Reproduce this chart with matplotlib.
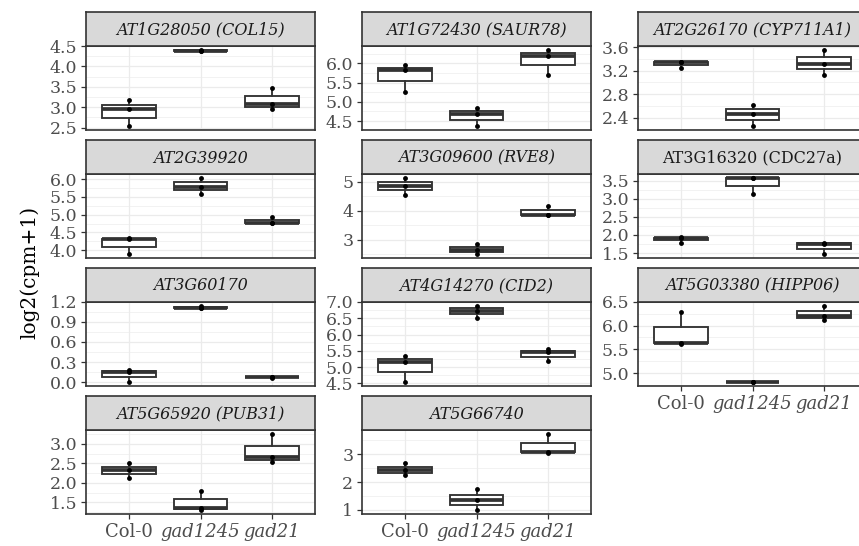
import matplotlib
matplotlib.use("Agg")
import matplotlib.pyplot as plt
import numpy as np

plt.rcParams["font.family"] = ["DejaVu Serif"]

# ---- data -------------------------------------------------------------
genotypes = ["Col-0", "gad1245", "gad21"]
genotype_italic = [False, True, True]

gene_labels = [
    "AT1G28050 (COL15)", "AT1G72430 (SAUR78)", "AT2G26170 (CYP711A1)",
    "AT2G39920", "AT3G09600 (RVE8)", "AT3G16320 (CDC27a)",
    "AT3G60170", "AT4G14270 (CID2)", "AT5G03380 (HIPP06)",
    "AT5G65920 (PUB31)", "AT5G66740",
]
gene_italic = [True, True, True, True, True, False, True, True, True, True, True]

# log2(cpm+1), three replicates per genotype (Col-0, gad1245, gad21)
col15 = [[2.53, 2.96, 3.17], [4.37, 4.38, 4.40], [2.96, 3.07, 3.46]]
saur78 = [[5.25, 5.82, 5.96], [4.36, 4.69, 4.83], [5.69, 6.20, 6.35]]
cyp711a1 = [[3.25, 3.34, 3.355], [2.25, 2.46, 2.62], [3.13, 3.32, 3.555]]
at2g39920 = [[3.88, 4.31, 4.34], [5.59, 5.79, 6.04], [4.76, 4.78, 4.93]]
rve8 = [[4.56, 4.85, 5.14], [2.49, 2.66, 2.86], [3.85, 3.87, 4.18]]
cdc27a = [[1.79, 1.91, 1.93], [3.14, 3.57, 3.58], [1.46, 1.76, 1.77]]
at3g60170 = [[0.00, 0.15, 0.18], [1.10, 1.11, 1.13], [0.07, 0.075, 0.08]]
cid2 = [[4.54, 5.17, 5.33], [6.51, 6.72, 6.89], [5.18, 5.45, 5.55]]
hipp06 = [[5.62, 5.64, 6.28], [4.81, 4.82, 4.82], [6.11, 6.21, 6.42]]
pub31 = [[2.13, 2.32, 2.50], [1.29, 1.36, 1.79], [2.53, 2.66, 3.26]]
at5g66740 = [[2.27, 2.42, 2.68], [0.98, 1.34, 1.77], [3.06, 3.09, 3.74]]

gene_values = [col15, saur78, cyp711a1, at2g39920, rve8, cdc27a,
               at3g60170, cid2, hipp06, pub31, at5g66740]

y_ticks = [
    [2.5, 3.0, 3.5, 4.0, 4.5],
    [4.5, 5.0, 5.5, 6.0],
    [2.4, 2.8, 3.2, 3.6],
    [4.0, 4.5, 5.0, 5.5, 6.0],
    [3, 4, 5],
    [1.5, 2.0, 2.5, 3.0, 3.5],
    [0.0, 0.3, 0.6, 0.9, 1.2],
    [4.5, 5.0, 5.5, 6.0, 6.5, 7.0],
    [5.0, 5.5, 6.0, 6.5],
    [1.5, 2.0, 2.5, 3.0],
    [1, 2, 3],
]
y_tick_fmt = ["{:.1f}", "{:.1f}", "{:.1f}", "{:.1f}", "{:d}", "{:.1f}",
              "{:.1f}", "{:.1f}", "{:.1f}", "{:.1f}", "{:d}"]

# ---- layout (pixels) ----------------------------------------------------
W, H = 859, 546
DPI = 100
col_left = [86, 362, 638]
panel_w = 229
row_top = [46, 174, 301.7, 430]
panel_h = 84.3
strip_h = 34

GRID = "#EBEBEB"
DARK = "#333333"

fig = plt.figure(figsize=(W / DPI, H / DPI), dpi=DPI)
fig.patch.set_facecolor("white")


def frac_rect(x, y_top, w, h):
    return [x / W, 1 - (y_top + h) / H, w / W, h / H]


bottom_panels = {8, 9, 10}

for i, (label, vals) in enumerate(zip(gene_labels, gene_values)):
    r, c = divmod(i, 3)
    ax = fig.add_axes(frac_rect(col_left[c], row_top[r], panel_w, panel_h))
    ax.set_facecolor("white")

    allv = np.concatenate([np.asarray(v, float) for v in vals])
    lo, hi = allv.min(), allv.max()
    pad = 0.05 * (hi - lo)
    ax.set_ylim(lo - pad, hi + pad)
    ax.set_xlim(0.4, 3.6)

    ticks = y_ticks[i]
    step = ticks[1] - ticks[0]
    minors = [t + step / 2 for t in ticks[:-1]]
    minors = [ticks[0] - step / 2] + minors + [ticks[-1] + step / 2]
    ylo, yhi = ax.get_ylim()
    for m in minors:
        if ylo <= m <= yhi:
            ax.axhline(m, color=GRID, lw=0.45, zorder=0)
    for t in ticks:
        ax.axhline(t, color=GRID, lw=0.9, zorder=0)
    for x in (1, 2, 3):
        ax.axvline(x, color=GRID, lw=0.9, zorder=0)

    ax.boxplot(
        vals, positions=[1, 2, 3], widths=0.75, whis=(0, 100),
        showfliers=False, patch_artist=True, showcaps=False,
        boxprops=dict(facecolor="white", edgecolor=DARK, linewidth=1.35),
        whiskerprops=dict(color=DARK, linewidth=1.35),
        medianprops=dict(color=DARK, linewidth=2.7, solid_capstyle="butt"),
        zorder=2,
    )
    for k, v in enumerate(vals):
        ax.plot([k + 1] * len(v), v, "o", color="black", ms=3.5,
                mec="none", zorder=3)

    ax.set_yticks(ticks)
    ax.set_yticklabels([y_tick_fmt[i].format(t) for t in ticks])
    ax.tick_params(axis="y", length=3.8, width=0.9, color=DARK, pad=2.5,
                   labelsize=12.5, labelcolor="#4D4D4D")
    ax.set_xticks([1, 2, 3])
    if i in bottom_panels:
        ax.set_xticklabels(genotypes)
        for tl, it in zip(ax.get_xticklabels(), genotype_italic):
            tl.set_fontstyle("italic" if it else "normal")
        ax.tick_params(axis="x", length=3.8, width=0.9, color=DARK, pad=2.5,
                       labelsize=13, labelcolor="#4D4D4D")
    else:
        ax.tick_params(axis="x", length=0, labelbottom=False)

    for sp in ax.spines.values():
        sp.set_color(DARK)
        sp.set_linewidth(1.2)
        sp.set_zorder(4)

    # facet strip
    sax = fig.add_axes(frac_rect(col_left[c], row_top[r] - strip_h, panel_w, strip_h))
    sax.set_facecolor("#D9D9D9")
    sax.set_xticks([])
    sax.set_yticks([])
    for sp in sax.spines.values():
        sp.set_color(DARK)
        sp.set_linewidth(1.2)
    sax.text(0.5, 0.47, label, transform=sax.transAxes, ha="center",
             va="center", fontsize=11.5, color="#1A1A1A",
             fontstyle="italic" if gene_italic[i] else "normal")

fig.text(30 / W, 1 - 272 / H, "log2(cpm+1)", rotation=90, ha="center",
         va="center", fontsize=14.5, color="black")

fig.savefig("out.png", dpi=DPI, facecolor="white")
